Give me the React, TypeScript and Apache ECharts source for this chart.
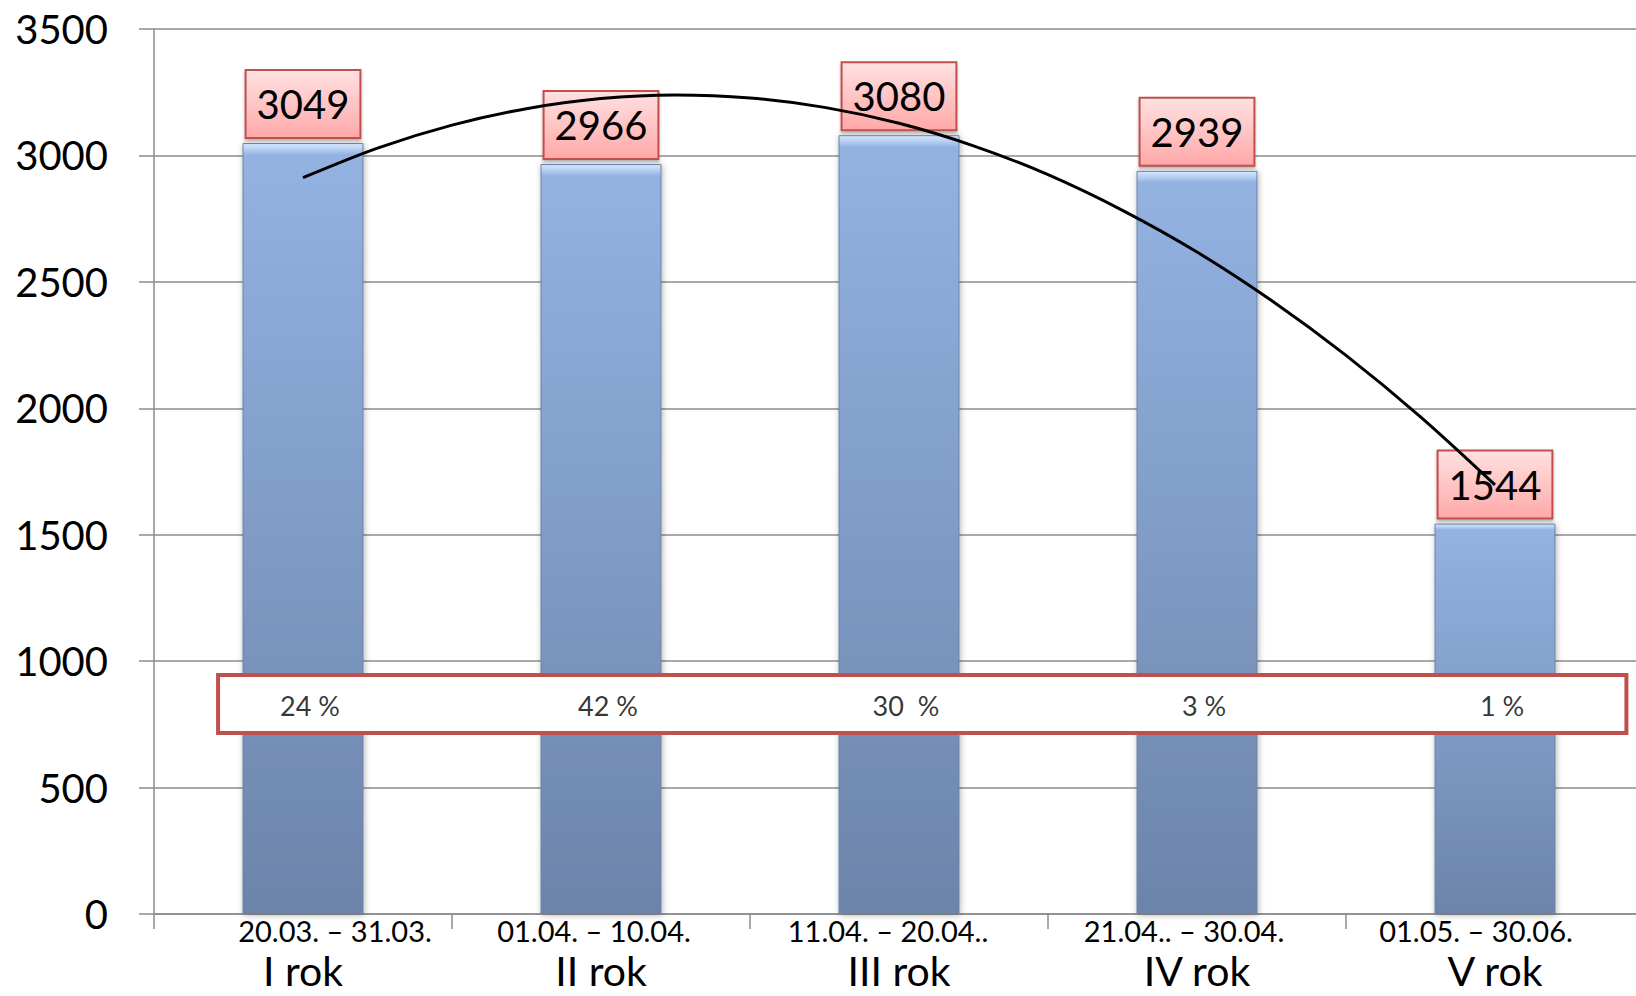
import React, { useEffect, useRef } from "react";
import * as echarts from "echarts";

const categories = ["I rok", "II rok", "III rok", "IV rok", "V rok"];
const dateRanges = ["20.03. – 31.03.", "01.04. – 10.04.", "11.04. – 20.04..", "21.04.. – 30.04.", "01.05. – 30.06."];
const barValues = [3049, 2966, 3080, 2939, 1544];
const percentLabels = ["24 %", "42 %", "30  %", "3 %", "1 %"];
// trend curve at quarter-category steps (position, value)
const trendPositions = [0, 0.25, 0.5, 0.75, 1, 1.25, 1.5, 1.75, 2, 2.25, 2.5, 2.75, 3, 3.25, 3.5, 3.75, 4];
const trendValues = [2912, 3029, 3120, 3185, 3225, 3239, 3227, 3190, 3127, 3038, 2924, 2783, 2618, 2426, 2209, 1966, 1697];
const yTicks = { min: 0, max: 3500, interval: 500 };
const percentBand = { x0: -0.285, x1: 4.441, y0: 716, y1: 945, labelY: 826 };

const FONT = "Lato, 'Open Sans', sans-serif";
const GRAY = "#8c8c8c";
// horizontal nudges of the date lines (top, right, bottom, left padding)
const datePads = [[0, 0, 0, 64], [0, 14, 0, 0], [0, 22, 0, 0], [0, 26, 0, 0], [0, 38, 0, 0]];

export default function App() {
  const ref = useRef<HTMLDivElement>(null);
  useEffect(() => {
    if (!ref.current) return;
    const chart = echarts.init(ref.current, null, { renderer: "svg" });
    const rich: any = {
      r: { fontSize: 41, fontFamily: FONT, color: "#000", lineHeight: 50 },
    };
    datePads.forEach((p, i) => {
      rich["d" + i] = { fontSize: 29, fontFamily: FONT, color: "#000", lineHeight: 30, padding: p };
    });
    const option = {
      animation: false,
      backgroundColor: "#ffffff",
      grid: { left: 154, top: 29, width: 1490, bottom: 82, containLabel: false },
      xAxis: [
        {
          type: "category",
          data: categories,
          axisLine: { show: true, lineStyle: { color: GRAY, width: 1.5 } },
          axisTick: { show: true, length: 15, lineStyle: { color: GRAY, width: 1.5 } },
          axisLabel: {
            margin: 1,
            interval: 0,
            formatter: (v: string, i: number) => `{d${i}|${dateRanges[i]}}\n{r|${v}}`,
            rich,
          },
        },
        { type: "value", min: -0.5, max: 4.5, show: false },
      ],
      yAxis: {
        type: "value",
        min: yTicks.min,
        max: yTicks.max,
        interval: yTicks.interval,
        axisLine: { show: true, onZero: false, lineStyle: { color: GRAY, width: 1.5 } },
        axisTick: { show: true, length: 15, lineStyle: { color: GRAY, width: 1.5 } },
        splitLine: { show: true, lineStyle: { color: GRAY, width: 1.5 } },
        axisLabel: {
          fontSize: 40,
          fontFamily: FONT,
          color: "#000",
          margin: 46,
          formatter: (v: number) => String(v),
        },
      },
      series: [
        {
          type: "bar",
          data: barValues,
          barWidth: "40.6%",
          z: 2,
          itemStyle: {
            color: {
              type: "linear", x: 0, y: 0, x2: 0, y2: 1,
              colorStops: [
                { offset: 0, color: "#d6e7fb" },
                { offset: 0.008, color: "#b4cdf1" },
                { offset: 0.015, color: "#93b2e2" },
                { offset: 1, color: "#6c84aa" },
              ],
            },
            borderColor: "#6a82a8",
            borderWidth: 1,
            shadowBlur: 6,
            shadowColor: "rgba(0,0,0,0.3)",
            shadowOffsetX: 1,
            shadowOffsetY: 1,
          },
          label: {
            show: true,
            position: "top",
            distance: 6,
            fontSize: 40,
            fontFamily: FONT,
            color: "#000",
            lineHeight: 44,
            padding: [11, 10, 11, 10],
            backgroundColor: {
              type: "linear", x: 0, y: 0, x2: 0, y2: 1,
              colorStops: [
                { offset: 0, color: "#ffe0e0" },
                { offset: 1, color: "#ffa9a9" },
              ],
            },
            borderColor: "#c0504d",
            borderWidth: 2,
            shadowBlur: 3,
            shadowColor: "rgba(0,0,0,0.3)",
            shadowOffsetY: 2,
          },
        },
        {
          type: "line",
          xAxisIndex: 1,
          data: trendPositions.map((p, i) => [p, trendValues[i]]),
          smooth: 0.3,
          symbol: "none",
          z: 6,
          lineStyle: { color: "#000", width: 3 },
        },
        {
          type: "scatter",
          xAxisIndex: 1,
          z: 12,
          symbolSize: 0,
          data: percentLabels.map((_, i) => [i, percentBand.labelY]),
          label: {
            show: true,
            position: "inside",
            offset: [7, 0],
            formatter: (p: any) => percentLabels[p.dataIndex],
            fontSize: 27,
            fontFamily: FONT,
            color: "#000",
          },
          markArea: {
            z: 10,
            silent: true,
            itemStyle: { color: "#ffffff", borderColor: "#c0504d", borderWidth: 4 },
            data: [[
              { xAxis: percentBand.x0, yAxis: percentBand.y1 },
              { xAxis: percentBand.x1, yAxis: percentBand.y0 },
            ]],
          },
        },
      ],
    };
    chart.setOption(option as any);
    return () => chart.dispose();
  }, []);
  return (
    <div
      style={{ position: "absolute", left: 0, top: 0, width: 1636, height: 996, overflow: "hidden" }}
    >
      <div ref={ref} style={{ width: 1660, height: 996 }} />
    </div>
  );
}
